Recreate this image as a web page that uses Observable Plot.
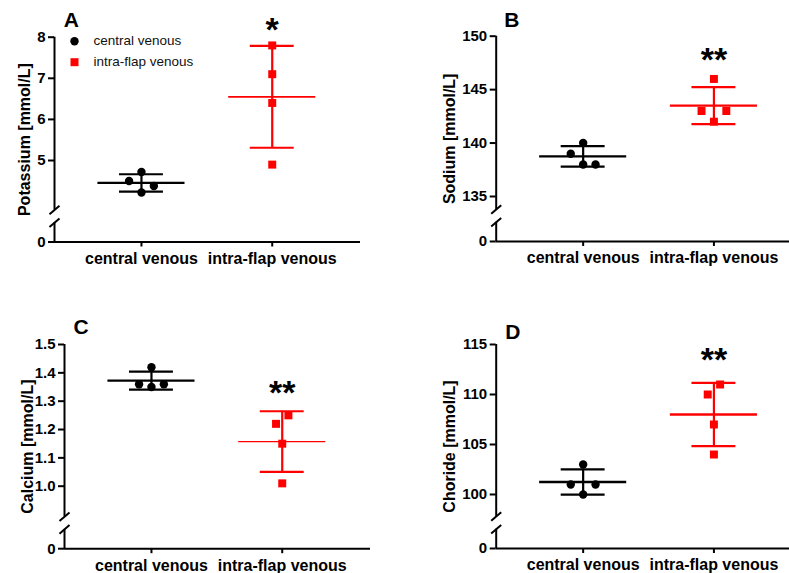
<!DOCTYPE html>
<html><head><meta charset="utf-8">
<script src="https://cdn.jsdelivr.net/npm/d3@7"></script>
<script src="https://cdn.jsdelivr.net/npm/@observablehq/plot@0.6"></script>
<style>
html,body{margin:0;padding:0;background:#fff;}
#chart{position:relative;width:789px;height:573px;overflow:hidden;background:#fff;}
.panel{position:absolute;}
</style></head><body><div id="chart"></div>
<script>
// ---------- data ----------
const categories = ["central venous", "intra-flap venous"];
const potassiumCentral = [4.72, 4.50, 4.38, 4.22];
const potassiumIntra   = [7.8, 7.1, 6.4, 4.9];
const sodiumCentral    = [140, 139, 138, 138];
const sodiumIntra      = [146, 143, 143, 142];
const calciumCentral   = [1.42, 1.36, 1.35, 1.36];
const calciumIntra     = [1.25, 1.22, 1.15, 1.01];
const chlorideCentral  = [103, 101, 101, 100];
const chlorideIntra    = [111, 110, 107, 104];
// scatter column slot of each point (GraphPad-style arrangement)
const potassiumCentralSlot = [0, -2, 2, 0];
const potassiumIntraSlot   = [0, 0, 0, 0];
const sodiumCentralSlot    = [0, -2, 0, 2];
const sodiumIntraSlot      = [0, -2, 2, 0];
const calciumCentralSlot   = [0, -2, 0, 2];
const calciumIntraSlot     = [1, -1, 0, 0];
const chlorideCentralSlot  = [0, -2, 2, 0];
const chlorideIntraSlot    = [1, -1, 0, 0];
// tick values
const potassiumTicks = [0, 5, 6, 7, 8];
const sodiumTicks    = [0, 135, 140, 145, 150];
const calciumTicks   = [0, 1.0, 1.1, 1.2, 1.3, 1.4, 1.5];
const chlorideTicks  = [0, 100, 105, 110, 115];
const yLabels = ["Potassium [mmol/L]", "Sodium [mmol/L]", "Calcium [mmol/L]", "Choride [mmol/L]"];
const panelLetters = ["A", "B", "C", "D"];
const significance = ["*", "**", "**", "**"];
const legendLabels = ["central venous", "intra-flap venous"];

// ---------- layout / style ----------
const FONT = "'Liberation Sans', Arial, Helvetica, sans-serif";
const COLORS = ["#000000", "#ff0000"];
const X_DOMAIN = [-0.665, 1.675];
const X_SPAN = 306;
const SLOT = 0.0474;
const MEAN_HALF = 0.333;
const CAP_HALF = 0.168;
const BREAK_HI = 32;   // px above zero where upper axis segment ends
const BREAK_LO = 19.3; // px above zero where lower axis segment ends
const slash = {draw(ctx) { ctx.moveTo(-5, 4.3); ctx.lineTo(5, -4.3); }};

const panels = [
  {left: 0, top: 0, h: 280, x0: 54, p1: 36.7, p2: 160, t1: 8, t2: 5, zeroY: 241.5,
   values: [potassiumCentral, potassiumIntra], slots: [potassiumCentralSlot, potassiumIntraSlot],
   ticks: potassiumTicks, fmt: d => String(d), label: yLabels[0], labelDx: -29.5,
   letter: panelLetters[0], letterDx: 9.3, letterDy: -10, sig: significance[0], sigY: 7.90,
   meanW: [2.4, 1.8], legend: true},
  {left: 400, top: 0, h: 280, x0: 95.7, p1: 35.7, p2: 196, t1: 150, t2: 135, zeroY: 241,
   values: [sodiumCentral, sodiumIntra], slots: [sodiumCentralSlot, sodiumIntraSlot],
   ticks: sodiumTicks, fmt: d => String(d), label: yLabels[1], labelDx: -46.2,
   letter: panelLetters[1], letterDx: 8, letterDy: -9, sig: significance[1], sigY: 146.73,
   meanW: [2.4, 2.4]},
  {left: 0, top: 280, h: 293, x0: 64, p1: 64, p2: 205.7, t1: 1.5, t2: 1.0, zeroY: 268.2,
   values: [calciumCentral, calciumIntra], slots: [calciumCentralSlot, calciumIntraSlot],
   ticks: calciumTicks, fmt: d => d === 0 ? "0" : d.toFixed(1), label: yLabels[2], labelDx: -36.8,
   letter: panelLetters[2], letterDx: 9, letterDy: -10.7, sig: significance[2], sigY: 1.289,
   meanW: [2.4, 1.2]},
  {left: 400, top: 280, h: 293, x0: 95.7, p1: 64, p2: 214, t1: 115, t2: 100, zeroY: 268,
   values: [chlorideCentral, chlorideIntra], slots: [chlorideCentralSlot, chlorideIntraSlot],
   ticks: chlorideTicks, fmt: d => String(d), label: yLabels[3], labelDx: -46.5,
   letter: panelLetters[3], letterDx: 9, letterDy: -5.7, sig: significance[3], sigY: 112.34,
   meanW: [2.4, 2.4]}
];

function makePanel(cfg) {
  const unit = (cfg.p2 - cfg.p1) / (cfg.t1 - cfg.t2);
  const yHigh = cfg.t2 - ((cfg.zeroY - BREAK_HI) - cfg.p2) / unit;
  const yLow = BREAK_LO / unit;
  const width = cfg.x0 + X_SPAN + 10;
  const stats = cfg.values.map((arr, g) => ({g, mean: d3.mean(arr), sd: d3.deviation(arr)}));
  const marks = [
    Plot.ruleY([0], {stroke: "black", strokeWidth: 2}),
    Plot.ruleX([{a: 0, b: yLow}, {a: yHigh, b: cfg.t1}], {x: () => X_DOMAIN[0], y1: "a", y2: "b", stroke: "black", strokeWidth: 2}),
    Plot.dot([yLow, yHigh], {x: () => X_DOMAIN[0], y: d => d, symbol: slash, stroke: "black", strokeWidth: 2, fill: "none"}),
    Plot.axisY({ticks: cfg.ticks, tickFormat: cfg.fmt, tickSize: 6, tickPadding: 3, strokeWidth: 2, label: null, fontSize: 15, fontWeight: "bold"}),
    Plot.axisX({ticks: [0, 1], tickFormat: i => categories[i], tickSize: 5, tickPadding: 5.5, strokeWidth: 2, label: null, fontSize: 16, fontWeight: "bold"})
  ];
  for (const g of [0, 1]) {
    const s = [stats[g]];
    const color = COLORS[g];
    marks.push(
      Plot.ruleX(s, {x: "g", y1: d => d.mean - d.sd, y2: d => d.mean + d.sd, stroke: color, strokeWidth: 2.2}),
      Plot.ruleY([s[0].mean - s[0].sd, s[0].mean + s[0].sd], {y: d => d, x1: () => g - CAP_HALF, x2: () => g + CAP_HALF, stroke: color, strokeWidth: 2.2}),
      Plot.ruleY(s, {y: "mean", x1: d => d.g - MEAN_HALF, x2: d => d.g + MEAN_HALF, stroke: color, strokeWidth: cfg.meanW[g]}),
      Plot.dot(cfg.values[g].map((v, i) => ({v, xp: g + cfg.slots[g][i] * SLOT})),
        {x: "xp", y: "v", r: g === 0 ? 4.2 : 4.5, symbol: g === 0 ? "circle" : "square", fill: color, stroke: "none"})
    );
  }
  marks.push(
    Plot.text([cfg.label], {frameAnchor: "left", dx: cfg.labelDx, rotate: -90, text: d => d, fontSize: 16, fontWeight: "bold", textAnchor: "middle", lineAnchor: "middle", fill: "black"}),
    Plot.text([cfg.letter], {frameAnchor: "top-left", dx: cfg.letterDx, dy: cfg.letterDy, text: d => d, fontSize: 21, fontWeight: "bold", textAnchor: "start", lineAnchor: "bottom", fill: "black"}),
    Plot.text([cfg.sig], {x: () => 1, y: () => cfg.sigY, text: d => d, fontSize: 34, fontWeight: "bold", textAnchor: "middle", lineAnchor: "bottom", fill: "black"})
  );
  if (cfg.legend) {
    marks.push(
      Plot.dot([0], {frameAnchor: "top-left", dx: 20, dy: 4, r: 4.2, fill: COLORS[0], symbol: "circle"}),
      Plot.dot([0], {frameAnchor: "top-left", dx: 20, dy: 25, r: 4.5, fill: COLORS[1], symbol: "square"}),
      Plot.text([legendLabels[0]], {frameAnchor: "top-left", dx: 39, dy: 3.7, text: d => d, textAnchor: "start", lineAnchor: "middle", fontSize: 13.5, fontWeight: "normal", fill: "#111"}),
      Plot.text([legendLabels[1]], {frameAnchor: "top-left", dx: 39, dy: 24.7, text: d => d, textAnchor: "start", lineAnchor: "middle", fontSize: 13.5, fontWeight: "normal", fill: "#111"})
    );
  }
  return Plot.plot({
    width, height: cfg.h,
    marginLeft: cfg.x0, marginRight: 10, marginTop: cfg.p1, marginBottom: cfg.h - cfg.zeroY,
    x: {type: "linear", domain: X_DOMAIN, label: null},
    y: {type: "linear", domain: [0, yLow, yHigh, cfg.t1], range: [cfg.zeroY, cfg.zeroY - BREAK_LO, cfg.zeroY - BREAK_HI, cfg.p1], label: null},
    style: {fontFamily: FONT, fontSize: "15px", color: "black", background: "transparent", maxWidth: "none", overflow: "visible"},
    marks
  });
}

const chart = document.getElementById("chart");
for (const cfg of panels) {
  const div = document.createElement("div");
  div.className = "panel";
  div.style.left = cfg.left + "px";
  div.style.top = cfg.top + "px";
  div.appendChild(makePanel(cfg));
  chart.appendChild(div);
}
</script></body></html>
